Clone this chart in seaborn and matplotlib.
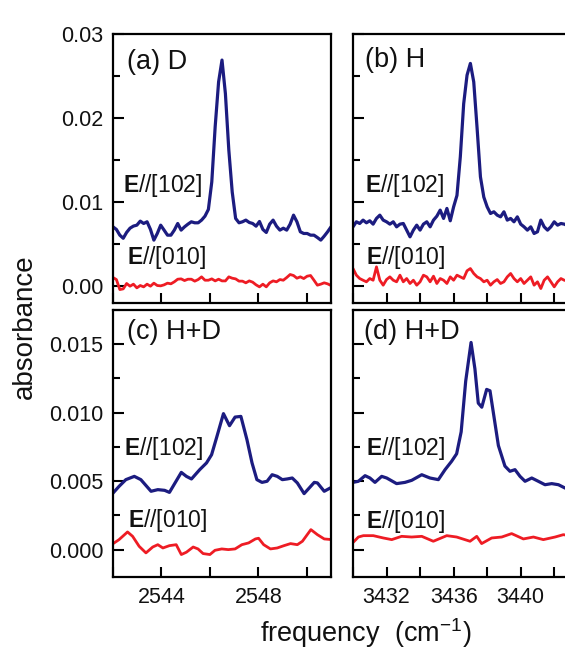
import numpy as np
import seaborn as sns
import matplotlib.pyplot as plt
from matplotlib.ticker import MultipleLocator, FormatStrFormatter

sns.set_style("ticks")
plt.rcParams["font.family"] = ["Liberation Sans", "DejaVu Sans"]
plt.rcParams["mathtext.fontset"] = "custom"
plt.rcParams["mathtext.rm"] = "Liberation Sans"
plt.rcParams["mathtext.bf"] = "Liberation Sans:bold"
plt.rcParams["mathtext.it"] = "Liberation Sans:italic"

BLUE = "#1c1c80"
RED = "#ee1c24"

# ---- spectra (absorbance in units of 1e-3) ----
# (a) D, O-D stretch region
d_freq = np.linspace(2542.0, 2551.0, 65)
d_par102 = [7.06, 6.75, 6.07, 5.70, 6.40, 6.90, 7.15, 7.26, 7.74, 7.46,
            7.66, 6.75, 5.48, 6.27, 7.26, 6.67, 6.07, 6.07, 6.67, 7.46,
            6.67, 7.06, 7.38, 7.66, 7.54, 7.54, 7.86, 8.33, 9.13, 12.4,
            19.0, 24.3, 26.9, 22.9, 16.2, 11.2, 8.06, 7.54, 7.66, 7.86,
            7.58, 7.46, 7.14, 7.70, 6.75, 6.39, 7.38, 7.86, 7.14, 6.67,
            6.90, 6.67, 7.38, 8.45, 7.66, 6.47, 6.27, 6.27, 6.07, 6.07,
            5.79, 5.48, 5.95, 6.47, 7.06]
d_par010 = [1.03, 0.79, -0.40, -0.32, 0.32, 0.00, 0.24, -0.20, 0.08, -0.08,
            0.24, 0.00, 0.36, 0.08, 0.04, 0.16, 0.36, 0.28, 0.52, 0.83,
            0.87, 0.67, 0.83, 0.83, 0.60, 0.79, 1.11, 0.71, 0.71, 0.87,
            0.63, 0.83, 0.63, 0.63, 1.11, 0.95, 0.87, 0.60, 0.60, 0.40,
            0.63, 0.48, 0.16, -0.08, 0.24, -0.08, 0.40, 0.63, 0.52, 0.79,
            0.71, 1.03, 1.39, 1.27, 0.95, 1.11, 0.91, 1.19, 1.27, 0.71,
            0.12, 0.24, 0.40, 0.28, 0.08]

# (b) H, O-H stretch region
h_freq = np.linspace(3430.0, 3443.0, 66)
h_par102 = [7.06, 7.66, 7.46, 7.86, 7.54, 7.78, 7.38, 8.06, 8.45, 7.86,
            7.66, 7.38, 7.66, 7.06, 7.38, 7.46, 6.67, 5.87, 6.67, 7.26,
            6.67, 7.38, 7.66, 7.06, 7.86, 8.33, 9.05, 8.06, 9.25, 7.78,
            9.44, 10.8, 15.4, 21.7, 25.1, 26.5, 24.3, 18.8, 13.0, 10.6,
            9.44, 8.65, 8.85, 8.45, 8.25, 8.85, 7.86, 8.06, 7.66, 8.25,
            7.38, 7.06, 6.67, 7.06, 6.27, 6.47, 7.86, 7.06, 6.67, 7.06,
            7.66, 7.26, 7.46, 7.38, 7.20, 7.30]
h_par010 = [2.10, 1.31, 0.91, 0.71, 0.52, 0.91, 0.71, 2.30, 0.71, 0.12,
            0.79, 1.11, 0.71, 0.52, 1.31, 0.52, 0.91, 0.32, 0.71, 0.12,
            0.52, 1.31, 1.11, 0.52, 1.19, 0.32, 0.91, 0.71, 0.32, 1.11,
            0.71, 1.31, 1.11, 0.91, 1.83, 2.10, 1.51, 1.11, 0.91, 0.52,
            0.71, 0.12, 0.52, 0.79, 0.32, 0.52, 1.11, 1.51, 0.91, 0.52,
            0.91, 0.32, 0.71, 1.11, 0.12, 0.52, -0.28, 0.71, 1.11, 0.52,
            -0.08, 0.52, 0.91, 0.71, 0.60, 0.80]

# (c) H+D, O-D region
hd_od_freq102 = [2541.94, 2542.25, 2542.53, 2542.88, 2543.15, 2543.57, 2543.85,
                 2544.13, 2544.33, 2544.82, 2545.03, 2545.24, 2545.58, 2545.86,
                 2546.07, 2546.28, 2546.56, 2546.81, 2547.04, 2547.28, 2547.53,
                 2547.74, 2547.94, 2548.15, 2548.36, 2548.57, 2548.78, 2548.99,
                 2549.19, 2549.40, 2549.61, 2549.89, 2550.10, 2550.31, 2550.44,
                 2550.72, 2551.04]
hd_od_par102 = [4.01, 4.62, 5.11, 5.35, 5.11, 4.26, 4.38,
                4.33, 4.18, 5.64, 5.35, 5.16, 5.84, 6.33,
                6.93, 8.20, 9.93, 9.05, 9.68, 9.73, 8.03,
                6.33, 5.11, 4.91, 4.99, 5.47, 5.35, 5.11,
                5.16, 5.23, 4.87, 4.09, 4.50, 4.91, 4.87,
                4.26, 4.57]
hd_od_freq010 = [2541.94, 2542.25, 2542.60, 2542.81, 2543.08, 2543.36, 2543.64,
                 2543.85, 2544.06, 2544.33, 2544.61, 2544.82, 2545.03, 2545.31,
                 2545.51, 2545.72, 2546.00, 2546.21, 2546.49, 2546.76, 2547.04,
                 2547.32, 2547.60, 2547.88, 2548.01, 2548.22, 2548.50, 2548.78,
                 2549.06, 2549.33, 2549.61, 2549.82, 2550.17, 2550.44, 2550.72,
                 2551.04]
hd_od_par010 = [0.36, 0.73, 1.29, 0.97, 0.24, -0.24, 0.19,
                0.36, 0.12, 0.29, 0.36, -0.36, -0.19, 0.19,
                0.05, -0.29, -0.36, -0.05, 0.05, 0.00, 0.05,
                0.36, 0.49, 0.78, 0.83, 0.36, 0.05, 0.12,
                0.29, 0.44, 0.36, 0.61, 1.46, 1.09, 0.78,
                0.73]

# (d) H+D, O-H region
hd_oh_freq102 = [3430.00, 3430.32, 3430.72, 3431.01, 3431.31, 3431.71, 3432.01,
                 3432.60, 3433.10, 3433.50, 3434.10, 3434.59, 3435.09, 3435.49,
                 3435.88, 3436.18, 3436.45, 3436.72, 3437.04, 3437.27, 3437.47,
                 3437.68, 3437.97, 3438.17, 3438.37, 3438.67, 3439.06, 3439.36,
                 3439.66, 3439.96, 3440.26, 3440.66, 3441.05, 3441.45, 3441.85,
                 3442.25, 3442.64, 3442.94]
hd_oh_par102 = [4.91, 4.99, 5.40, 5.23, 4.91, 5.35, 5.23,
                4.82, 4.91, 5.06, 5.47, 5.23, 5.11, 5.84,
                6.45, 7.00, 8.60, 12.3, 15.13, 13.2, 10.7,
                10.4, 11.7, 11.6, 10.0, 7.60, 6.10, 5.72,
                5.84, 5.35, 4.99, 5.23, 4.99, 4.74, 4.82,
                4.74, 4.50, 4.38]
hd_oh_freq010 = [3430.02, 3430.32, 3430.62, 3431.21, 3431.81, 3432.31, 3432.90,
                 3433.50, 3434.10, 3434.79, 3435.59, 3436.18, 3436.98, 3437.38,
                 3437.67, 3438.27, 3438.87, 3439.46, 3440.16, 3440.76, 3441.35,
                 3442.05, 3442.54, 3442.94]
hd_oh_par010 = [0.54, 0.92, 1.02, 1.02, 0.85, 0.73, 0.97,
                0.92, 0.97, 0.61, 1.02, 0.92, 0.61, 0.97,
                0.44, 0.85, 0.92, 1.17, 0.78, 0.92, 0.73,
                0.92, 1.09, 1.02]

panel_tags = ["(a) D", "(b) H", "(c) H+D", "(d) H+D"]
label_102 = r"$\mathbf{E}$//[102]"
label_010 = r"$\mathbf{E}$//[010]"

W, H = 565, 649
fig = plt.figure(figsize=(W / 100, H / 100), dpi=100)


def rect(x0, y0, x1, y1):
    return [x0 / W, 1 - y1 / H, (x1 - x0) / W, (y1 - y0) / H]


def draw_panel(r, f102, a102, f010, a010, xlim, ylim, ymaj, yfmt,
               show_x, show_y, tag, tag_pos, pos102, pos010):
    ax = fig.add_axes(r)
    sns.lineplot(x=f102, y=np.asarray(a102) / 1000.0, ax=ax, color=BLUE,
                 linewidth=2.3)
    sns.lineplot(x=f010, y=np.asarray(a010) / 1000.0, ax=ax, color=RED,
                 linewidth=2.0)
    ax.set_xlim(*xlim)
    ax.set_ylim(*ylim)
    ax.set_xlabel("")
    ax.set_ylabel("")
    ax.xaxis.set_major_locator(MultipleLocator(4))
    ax.xaxis.set_minor_locator(MultipleLocator(2))
    ax.yaxis.set_major_locator(MultipleLocator(ymaj))
    ax.yaxis.set_minor_locator(MultipleLocator(ymaj / 2))
    ax.yaxis.set_major_formatter(FormatStrFormatter(yfmt))
    ax.xaxis.set_major_formatter(FormatStrFormatter("%d"))
    ax.tick_params(axis="both", which="both", direction="in", top=False,
                   right=False, width=1.5, color="black", labelsize=15.5,
                   labelcolor="#111111")
    ax.tick_params(axis="x", which="both", length=7.5, pad=7)
    ax.tick_params(axis="y", which="major", length=8, pad=7)
    ax.tick_params(axis="y", which="minor", length=5)
    ax.tick_params(labelbottom=show_x, labelleft=show_y)
    for sp in ax.spines.values():
        sp.set_color("black")
        sp.set_linewidth(1.6)
    ax.text(*tag_pos, tag, transform=ax.transAxes, fontsize=19.5,
            ha="left", va="center", color="#111111")
    ax.text(*pos102, label_102, transform=ax.transAxes, fontsize=16.5,
            ha="left", va="center", color="#111111")
    ax.text(*pos010, label_010, transform=ax.transAxes, fontsize=16.5,
            ha="left", va="center", color="#111111")
    return ax


top_ylim = (-0.002, 0.030)
bot_ylim = (-0.002, 0.0175)
od_xlim = (2542.0, 2551.0)
oh_xlim = (3430.0, 3443.0)

draw_panel(rect(113, 34, 331, 303), d_freq, d_par102, d_freq, d_par010,
           od_xlim, top_ylim, 0.01, "%.2f", False, True, panel_tags[0],
           (0.064, 0.896), (0.046, 0.435), (0.064, 0.171))
draw_panel(rect(353, 34, 571, 303), h_freq, h_par102, h_freq, h_par010,
           oh_xlim, top_ylim, 0.01, "%.2f", False, False, panel_tags[1],
           (0.055, 0.903), (0.055, 0.435), (0.060, 0.171))
draw_panel(rect(113, 310, 331, 577), hd_od_freq102, hd_od_par102,
           hd_od_freq010, hd_od_par010, od_xlim, bot_ylim, 0.005, "%.3f",
           True, True, panel_tags[2],
           (0.064, 0.918), (0.050, 0.483), (0.069, 0.213))
draw_panel(rect(353, 310, 571, 577), hd_oh_freq102, hd_oh_par102,
           hd_oh_freq010, hd_oh_par010, oh_xlim, bot_ylim, 0.005, "%.3f",
           True, False, panel_tags[3],
           (0.050, 0.918), (0.060, 0.483), (0.060, 0.206))

fig.text(25 / W, 1 - 327 / H, "absorbance", rotation=90, fontsize=20,
         ha="center", va="center", color="#111111")
fig.text(366 / W, 1 - 633 / H, "frequency  (cm$^{-1}$)", fontsize=19.5,
         ha="center", va="center", color="#111111")

fig.savefig("out.png", dpi=100, facecolor="white")
